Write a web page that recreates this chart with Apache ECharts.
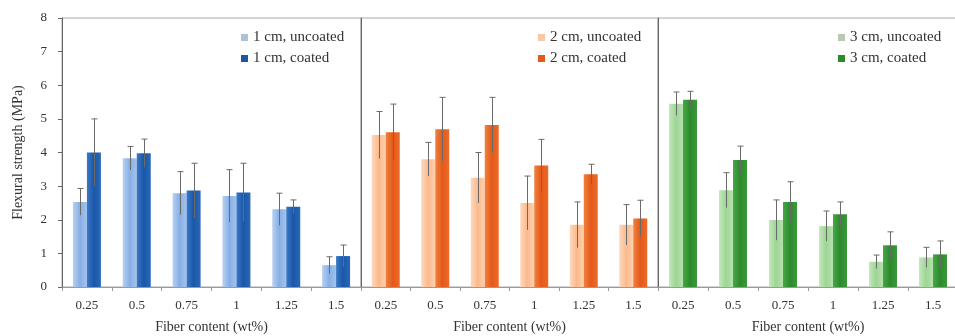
<!DOCTYPE html>
<html>
<head>
<meta charset="utf-8">
<script src="https://cdn.jsdelivr.net/npm/echarts@6/dist/echarts.min.js"></script>
<style>html,body{margin:0;padding:0;background:#fff;}#c{width:955px;height:336px;}</style>
</head>
<body>
<div id="c"></div>
<script>
var categories = ['0.25', '0.5', '0.75', '1', '1.25', '1.5'];
var yTicks = [0, 8, 1];

var names1 = ['1 cm, uncoated', '1 cm, coated'];
var uncoated1 = [2.53, 3.83, 2.79, 2.71, 2.31, 0.65];
var uncoated1Err = [0.40, 0.35, 0.64, 0.78, 0.48, 0.25];
var coated1 = [4.00, 3.98, 2.87, 2.81, 2.39, 0.92];
var coated1Err = [1.00, 0.42, 0.81, 0.87, 0.20, 0.33];

var names2 = ['2 cm, uncoated', '2 cm, coated'];
var uncoated2 = [4.52, 3.80, 3.25, 2.50, 1.85, 1.85];
var uncoated2Err = [0.70, 0.50, 0.75, 0.80, 0.68, 0.60];
var coated2 = [4.60, 4.69, 4.82, 3.61, 3.35, 2.04];
var coated2Err = [0.84, 0.95, 0.82, 0.78, 0.30, 0.54];

var names3 = ['3 cm, uncoated', '3 cm, coated'];
var uncoated3 = [5.45, 2.88, 1.99, 1.81, 0.75, 0.88];
var uncoated3Err = [0.35, 0.52, 0.60, 0.45, 0.20, 0.30];
var coated3 = [5.57, 3.78, 2.53, 2.16, 1.24, 0.97];
var coated3Err = [0.25, 0.41, 0.60, 0.37, 0.40, 0.40];

var xTitle = 'Fiber content (wt%)';
var yTitle = 'Flexural strength (MPa)';

var FONT = 'Liberation Serif';
var BAR_W = 14;

function grad(edge, mid, edge2) {
  return new echarts.graphic.LinearGradient(0, 0, 1, 0, [
    {offset: 0, color: edge}, {offset: 0.5, color: mid}, {offset: 1, color: edge2}
  ]);
}
var palette = [
  [grad('#b9d1f1', '#87afe5', '#a5c3ec'), grad('#3b78c6', '#1a57a8', '#2a69b7')],
  [grad('#fdd9bf', '#fbb98b', '#fcd0b0'), grad('#f0823f', '#e4591a', '#ea6c2a')],
  [grad('#c4e9bd', '#9dd594', '#b6e2ad'), grad('#48a848', '#2c8a2c', '#3a9a3a')]
];
var legendIcon = [['#aebfd6', '#1a57a8'], ['#f8c7a5', '#e4591a'], ['#b9c9b5', '#2c8a2c']];

var panels = [
  {names: names1, u: uncoated1, ue: uncoated1Err, c: coated1, ce: coated1Err},
  {names: names2, u: uncoated2, ue: uncoated2Err, c: coated2, ce: coated2Err},
  {names: names3, u: uncoated3, ue: uncoated3Err, c: coated3, ce: coated3Err}
];
var lefts = [62, 361, 658];
var widths = [299, 297, 300];
var legendLefts = [236, 533, 833];

function errRender(offset) {
  return function (params, api) {
    var i = api.value(0), v = api.value(1), e = api.value(2);
    var top = api.coord([i, v + e]);
    var bot = api.coord([i, Math.max(0, v - e)]);
    var x = Math.round(top[0] + offset) + 0.5;
    return {
      type: 'group',
      children: [
        {type: 'line', shape: {x1: x, y1: bot[1], x2: x, y2: top[1]}, style: {stroke: '#6a6a6a', lineWidth: 1}},
        {type: 'line', shape: {x1: x - 3, y1: top[1], x2: x + 3, y2: top[1]}, style: {stroke: '#6a6a6a', lineWidth: 1}}
      ]
    };
  };
}
function errData(vals, errs) {
  return vals.map(function (v, i) { return [i, v, errs[i]]; });
}

var grids = [], xAxes = [], yAxes = [], series = [], legends = [];
panels.forEach(function (p, k) {
  grids.push({left: lefts[k], top: 18, width: widths[k], height: 269, show: true, borderColor: '#a8a8a8', borderWidth: 1, containLabel: false, outerBoundsMode: 'none'});
  xAxes.push({
    type: 'category', gridIndex: k, data: categories,
    axisLine: {lineStyle: {color: '#9a9a9a'}},
    axisTick: {show: true, length: 4, lineStyle: {color: '#9a9a9a'}},
    axisLabel: {fontFamily: FONT, fontSize: 13, color: '#333', margin: 12},
    name: xTitle, nameLocation: 'middle', nameGap: 33,
    nameTextStyle: {fontFamily: FONT, fontSize: 14, color: '#333'}
  });
  yAxes.push({
    type: 'value', gridIndex: k, min: yTicks[0], max: yTicks[1], interval: yTicks[2],
    splitLine: {show: false},
    axisLine: {show: true, lineStyle: {color: '#666'}},
    axisTick: {show: k === 0, length: 4, lineStyle: {color: '#666'}},
    axisLabel: {show: k === 0, fontFamily: FONT, fontSize: 13, color: '#333', margin: 15},
    name: k === 0 ? yTitle : '', nameLocation: 'middle', nameGap: 37,
    nameTextStyle: {fontFamily: FONT, fontSize: 14, color: '#333'}
  });
  series.push({
    type: 'bar', name: p.names[0], xAxisIndex: k, yAxisIndex: k, data: p.u,
    barWidth: BAR_W, barGap: '0%', itemStyle: {color: palette[k][0]}, z: 2
  });
  series.push({
    type: 'bar', name: p.names[1], xAxisIndex: k, yAxisIndex: k, data: p.c,
    barWidth: BAR_W, barGap: '0%', itemStyle: {color: palette[k][1]}, z: 2
  });
  series.push({
    type: 'custom', xAxisIndex: k, yAxisIndex: k, data: errData(p.u, p.ue),
    renderItem: errRender(-BAR_W / 2), encode: {x: 0, y: 1}, z: 5, silent: true
  });
  series.push({
    type: 'custom', xAxisIndex: k, yAxisIndex: k, data: errData(p.c, p.ce),
    renderItem: errRender(BAR_W / 2), encode: {x: 0, y: 1}, z: 5, silent: true
  });
  legends.push({
    orient: 'vertical', left: legendLefts[k], top: 25, itemWidth: 7, itemHeight: 7, itemGap: 6,
    data: [
      {name: p.names[0], itemStyle: {color: legendIcon[k][0]}},
      {name: p.names[1], itemStyle: {color: legendIcon[k][1]}}
    ],
    textStyle: {fontFamily: FONT, fontSize: 15, color: '#333'},
    icon: 'rect'
  });
});

var chart = echarts.init(document.getElementById('c'), null, {renderer: 'canvas'});
chart.setOption({
  animation: false,
  backgroundColor: '#fff',
  grid: grids, xAxis: xAxes, yAxis: yAxes, series: series, legend: legends
});
</script>
</body>
</html>
